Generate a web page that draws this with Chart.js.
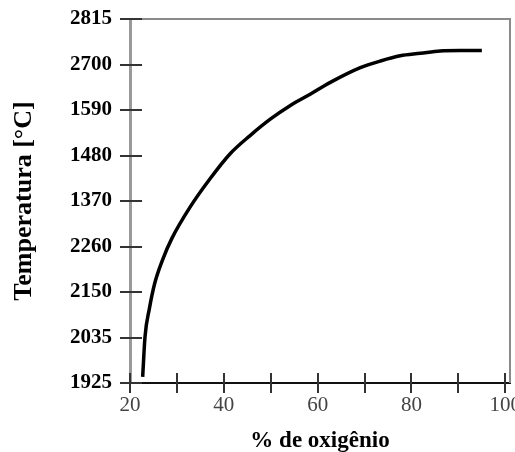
<!DOCTYPE html>
<html>
<head>
<meta charset="utf-8">
<script src="https://cdn.jsdelivr.net/npm/chart.js@4/dist/chart.umd.min.js"></script>
<style>
    body { margin: 0; background: #fff; }
    #wrap { width: 515px; height: 452px; }
</style>
</head>
<body>
<div id="wrap"><canvas id="chart"></canvas></div>
<script>
// curve: % de oxigênio vs temperature
const oxygenPct = [22.7, 23.2, 24.1, 25.3, 26.9, 28.9, 32.8, 37.1, 41.3, 45.6, 49.9,
    54.1, 58.4, 62.7, 69.1, 73.3, 77.6, 81.9, 86.1, 90.4, 95.0];
const temperature = [1940, 2038, 2105, 2170, 2225, 2278, 2355, 2425, 2485, 2530, 2570,
    2603, 2631, 2660, 2696, 2712, 2725, 2731, 2737, 2738, 2738];

// y tick labels exactly as printed, bottom to top
const yTickLabels = ['1925', '2035', '2150', '2260', '1370', '1480', '1590', '2700', '2815'];
const xTickLabels = ['20', '40', '60', '80', '100'];

const yMin = 1925;
const yMax = 2815;

// draws crossing tick marks and the top / right frame lines
const frame = {
    id: 'frame',
    afterDraw(chart) {
        const { ctx, chartArea: a, scales: { x, y } } = chart;
        ctx.save();
        ctx.strokeStyle = '#8a8a8a';
        ctx.lineWidth = 2;
        ctx.beginPath();
        ctx.moveTo(a.left, a.top);
        ctx.lineTo(a.right, a.top);
        ctx.lineTo(a.right, a.bottom);
        ctx.stroke();

        ctx.strokeStyle = '#333';
        ctx.lineWidth = 2;
        y.ticks.forEach((t) => {
            const py = Math.round(y.getPixelForValue(t.value));
            ctx.beginPath();
            ctx.moveTo(a.left - 10, py);
            ctx.lineTo(a.left + 12, py);
            ctx.stroke();
        });
        x.ticks.forEach((t) => {
            const px = Math.round(x.getPixelForValue(t.value));
            ctx.beginPath();
            ctx.moveTo(px, a.bottom - 10);
            ctx.lineTo(px, a.bottom + 10);
            ctx.stroke();
        });
        ctx.restore();
    }
};

new Chart(document.getElementById('chart'), {
    type: 'line',
    data: {
        datasets: [{
            data: oxygenPct.map((v, i) => ({ x: v, y: temperature[i] })),
            borderColor: '#000',
            borderWidth: 3.5,
            pointRadius: 0,
            cubicInterpolationMode: 'monotone',
            fill: false
        }]
    },
    options: {
        responsive: true,
        maintainAspectRatio: false,
        animation: false,
        layout: { padding: { top: 19, right: 5, left: 0, bottom: 0 } },
        plugins: { legend: { display: false }, tooltip: { enabled: false } },
        scales: {
            x: {
                type: 'linear',
                min: 20,
                max: 101,
                grid: { display: false },
                border: { display: true, color: '#111', width: 2 },
                ticks: {
                    stepSize: 10,
                    maxRotation: 0,
                    padding: 2,
                    color: '#444',
                    font: { family: 'Liberation Serif', size: 21 },
                    callback: (v) => (xTickLabels.includes(String(v)) ? String(v) : '')
                },
                title: {
                    display: true,
                    text: '% de oxigênio',
                    color: '#000',
                    font: { family: 'Liberation Serif', size: 23, weight: 'bold' },
                    padding: { top: 0, bottom: -3 }
                },
                afterBuildTicks: (s) => {
                    const ticks = [];
                    for (let v = 20; v <= 100; v += 10) ticks.push({ value: v });
                    s.ticks = ticks;
                },
                afterFit: (s) => {
                    s.height = 69;
                    s.paddingLeft = 0;
                    s.paddingRight = 0;
                }
            },
            y: {
                type: 'linear',
                min: yMin,
                max: yMax,
                grid: { display: false },
                border: { display: true, color: '#999', width: 3 },
                ticks: {
                    padding: 10,
                    color: '#000',
                    font: { family: 'Liberation Serif', size: 21, weight: 'bold' },
                    callback: (v, i) => yTickLabels[i]
                },
                title: {
                    display: true,
                    text: 'Temperatura [°C]',
                    color: '#000',
                    font: { family: 'Liberation Serif', size: 26, weight: 'bold' },
                    padding: { top: 9, bottom: 0 }
                },
                afterBuildTicks: (s) => {
                    s.ticks = yTickLabels.map((l, i) => ({
                        value: yMin + i * (yMax - yMin) / (yTickLabels.length - 1)
                    }));
                },
                afterFit: (s) => {
                    s.width = 130;
                    s.paddingTop = 0;
                    s.paddingBottom = 0;
                }
            }
        }
    },
    plugins: [frame]
});
</script>
</body>
</html>
